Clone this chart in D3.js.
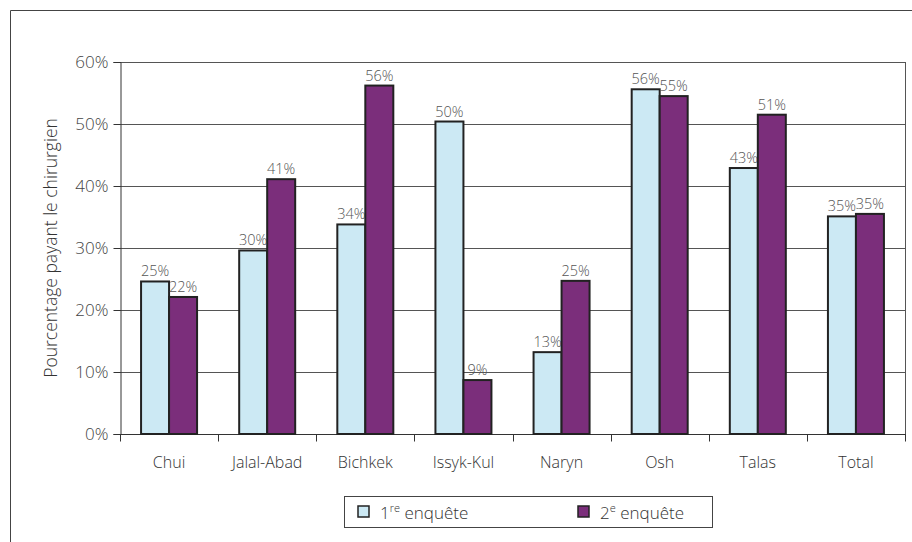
<!DOCTYPE html>
<html>
<head>
<meta charset="utf-8">
<script src="https://cdn.jsdelivr.net/npm/d3@7"></script>
<style>
  html, body { margin: 0; padding: 0; background: #fff; }
  svg { display: block; font-family: "Open Sans", sans-serif; font-weight: 300; }
</style>
</head>
<body>
<svg id="chart" width="912" height="542"></svg>
<script>
// Regions surveyed and share of patients paying the surgeon (%)
const categories = ["Chui", "Jalal-Abad", "Bichkek", "Issyk-Kul", "Naryn", "Osh", "Talas", "Total"];
const survey1 = [24.6, 29.6, 33.8, 50.4, 13.2, 55.6, 42.9, 35.1];
const survey2 = [22.1, 41.1, 56.2, 8.7, 24.7, 54.5, 51.5, 35.5];
const label1 = [25, 30, 34, 50, 13, 56, 43, 35];
const label2 = [22, 41, 56, 9, 25, 55, 51, 35];
const yTicks = [0, 10, 20, 30, 40, 50, 60];
const colors = ["#cce9f4", "#7b2e7b"];

const svg = d3.select("#chart");
const plot = { left: 120, right: 905, top: 62, bottom: 434 };

// Outer frame (top and left edges visible in the window)
svg.append("path")
  .attr("d", "M10.5,542 L10.5,10.5 L912,10.5")
  .attr("fill", "none").attr("stroke", "#444").attr("stroke-width", 1);

const x = d3.scaleBand().domain(categories).range([plot.left, plot.right]).paddingInner(0).paddingOuter(0);
const y = d3.scaleLinear().domain([0, 60]).range([plot.bottom, plot.top]);

// Horizontal gridlines
svg.append("g").selectAll("line").data(yTicks.filter(d => d > 0)).join("line")
  .attr("x1", plot.left).attr("x2", plot.right)
  .attr("y1", d => Math.round(y(d)) + 0.5).attr("y2", d => Math.round(y(d)) + 0.5)
  .attr("stroke", "#555").attr("stroke-width", 1);

// Right edge of plot area
svg.append("line")
  .attr("x1", plot.right + 0.5).attr("x2", plot.right + 0.5)
  .attr("y1", plot.top).attr("y2", plot.bottom)
  .attr("stroke", "#555").attr("stroke-width", 1);

// Y axis
const yAxis = d3.axisLeft(y).tickValues(yTicks).tickFormat(d => d + "%").tickSize(7).tickPadding(5);
const gy = svg.append("g").attr("transform", `translate(${plot.left + 0.5},0)`).call(yAxis);
gy.select(".domain").attr("stroke", "#333");
gy.selectAll(".tick line").attr("stroke", "#333");
gy.selectAll(".tick text").attr("fill", "#444").style("font-size", "17px")
  .style("font-family", "'Open Sans', sans-serif").style("font-weight", 300);

// X axis with ticks at category boundaries
const gx = svg.append("g").attr("transform", `translate(0,${plot.bottom + 0.5})`);
gx.append("line").attr("x1", plot.left).attr("x2", plot.right + 1)
  .attr("stroke", "#333");
const bounds = categories.map(c => x(c)).concat([plot.right]);
gx.selectAll("line.tk").data(bounds).join("line").attr("class", "tk")
  .attr("x1", d => Math.round(d) + 0.5).attr("x2", d => Math.round(d) + 0.5)
  .attr("y1", 0).attr("y2", 7).attr("stroke", "#333");
gx.selectAll("text").data(categories).join("text")
  .attr("x", d => x(d) + x.bandwidth() / 2).attr("y", 33)
  .attr("text-anchor", "middle").attr("fill", "#333")
  .style("font-size", "16px").text(d => d);

// Bars
const barW = 28;
const series = [survey1, survey2];
const labels = [label1, label2];
series.forEach((vals, si) => {
  const g = svg.append("g");
  g.selectAll("rect").data(vals).join("rect")
    .attr("x", (d, i) => x(categories[i]) + x.bandwidth() / 2 - barW + si * barW)
    .attr("y", d => y(d))
    .attr("width", barW)
    .attr("height", d => y(0) - y(d))
    .attr("fill", colors[si])
    .attr("stroke", "#222").attr("stroke-width", 2);
  g.selectAll("text").data(vals).join("text")
    .attr("x", (d, i) => x(categories[i]) + x.bandwidth() / 2 - barW / 2 + si * barW)
    .attr("y", d => y(d) - 5)
    .attr("text-anchor", "middle").attr("fill", "#555")
    .style("font-size", "14.5px")
    .text((d, i) => labels[si][i] + "%");
});

// Y axis title
svg.append("text")
  .attr("transform", `translate(57,${(plot.top + plot.bottom) / 2}) rotate(-90)`)
  .attr("text-anchor", "middle").attr("fill", "#333")
  .style("font-size", "17.5px")
  .text("Pourcentage payant le chirurgien");

// Legend
const lg = svg.append("g");
lg.append("rect").attr("x", 344.5).attr("y", 496.5).attr("width", 368).attr("height", 31)
  .attr("fill", "#fff").attr("stroke", "#444");
const legendItems = [
  { x: 358, color: colors[0], base: "1", sup: "re", rest: " enquête" },
  { x: 578, color: colors[1], base: "2", sup: "e", rest: " enquête" }
];
legendItems.forEach(it => {
  lg.append("rect").attr("x", it.x).attr("y", 506).attr("width", 11).attr("height", 11)
    .attr("fill", it.color).attr("stroke", "#222").attr("stroke-width", 1.5);
  const t = lg.append("text").attr("x", it.x + 22).attr("y", 519).attr("fill", "#333")
    .style("font-size", "17px");
  t.append("tspan").text(it.base);
  t.append("tspan").attr("dy", -7).style("font-size", "11px").text(it.sup);
  t.append("tspan").attr("dy", 7).text(it.rest);
});
</script>
</body>
</html>
